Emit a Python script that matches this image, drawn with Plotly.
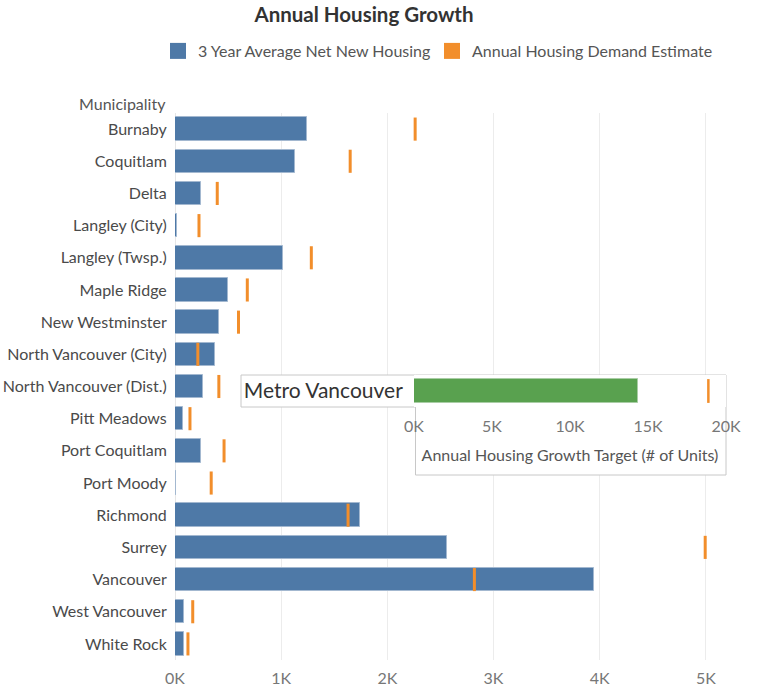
import plotly.graph_objects as go

# ---------------- data ----------------
municipalities = ["Burnaby", "Coquitlam", "Delta", "Langley (City)", "Langley (Twsp.)",
                  "Maple Ridge", "New Westminster", "North Vancouver (City)",
                  "North Vancouver (Dist.)", "Pitt Meadows", "Port Coquitlam", "Port Moody",
                  "Richmond", "Surrey", "Vancouver", "West Vancouver", "White Rock"]
net_new_housing = [1240, 1133, 248, 15, 1015, 495, 415, 377, 262, 73, 248, 12,
                   1746, 2562, 3942, 87, 87]
demand_estimate = [2262, 1650, 398, 226, 1284, 681, 598, 215, 413, 141, 462, 341,
                   1630, 4994, 2820, 167, 122]

main_tick_vals = [0, 1000, 2000, 3000, 4000, 5000]
main_tick_text = ["0K", "1K", "2K", "3K", "4K", "5K"]

metro_label = ["Metro Vancouver"]
metro_target = [14360]
metro_demand = [18870]
inset_tick_vals = [0, 5000, 10000, 15000, 20000]
inset_tick_text = ["0K", "5K", "10K", "15K", "20K"]

series_names = ["3 Year Average Net New Housing", "Annual Housing Demand Estimate"]

# ---------------- styles ----------------
BLUE = "#4e79a7"
ORANGE = "#f28e2b"
GREEN = "#59a14f"
FONT = "Lato"

W, H = 758, 689
L, R, T, B = 175, 15, 113, 29
PW, PH = W - L - R, H - T - B
XMAX = 5350
NCAT = len(municipalities)


def dx(px):
    return (px - L) / PW


def dy(py):
    return (H - B - py) / PH


def xdata(px):
    return (px - L) / PW * XMAX


def ydata(py):
    return (py - T) / PH * NCAT - 0.5


fig = go.Figure()

fig.add_trace(go.Bar(
    y=municipalities, x=net_new_housing, orientation="h",
    marker=dict(color=BLUE, line=dict(color="#a3b8d0", width=1)),
    width=0.73, showlegend=False, name=series_names[0],
    xaxis="x", yaxis="y"))

fig.add_trace(go.Scatter(
    y=municipalities, x=demand_estimate, mode="markers",
    marker=dict(symbol="line-ns", size=16.5, line=dict(color=ORANGE, width=3)),
    showlegend=False, name=series_names[1], xaxis="x", yaxis="y"))

# legend entries (square swatches)
for nm, col, lg in zip(series_names, [BLUE, ORANGE], ["legend", "legend2"]):
    fig.add_trace(go.Scatter(
        x=[None], y=[None], mode="markers", name=nm,
        marker=dict(symbol="square", size=16, color=col),
        showlegend=True, legend=lg, xaxis="x", yaxis="y"))

# inset: Metro Vancouver
fig.add_trace(go.Bar(
    y=metro_label, x=metro_target, orientation="h",
    marker=dict(color=GREEN, line=dict(color="#a9cda5", width=1)),
    width=0.77, showlegend=False, xaxis="x2", yaxis="y2"))
fig.add_trace(go.Scatter(
    y=metro_label, x=metro_demand, mode="markers",
    marker=dict(symbol="line-ns", size=17, line=dict(color=ORANGE, width=2.5)),
    showlegend=False, xaxis="x2", yaxis="y2"))

legend_style = dict(orientation="h", yanchor="middle", xanchor="left", y=dy(51),
                    font=dict(family=FONT, size=16, color="#555555"),
                    bgcolor="rgba(0,0,0,0)", itemsizing="trace")

fig.update_layout(
    width=W, height=H,
    margin=dict(l=L, r=R, t=T, b=B, autoexpand=False),
    paper_bgcolor="white", plot_bgcolor="white",
    font=dict(family=FONT, color="#555555", size=16),
    bargap=0,
    title=dict(text="<b>Annual Housing Growth</b>", x=364 / W, xanchor="center",
               y=1 - 15 / H, yanchor="middle",
               font=dict(family=FONT, size=20.5, color="#333333")),
    legend=dict(x=dx(158), **legend_style),
    legend2=dict(x=dx(432), **legend_style),
    xaxis=dict(domain=[0, 1], range=[0, XMAX], tickvals=main_tick_vals,
               ticktext=main_tick_text, showgrid=True, gridcolor="#ececec",
               gridwidth=1, zeroline=True, zerolinecolor="#e6e6e6", zerolinewidth=1,
               showline=False, ticks="outside", ticklen=4, tickcolor="rgba(0,0,0,0)",
               automargin=False,
               tickfont=dict(family=FONT, size=16, color="#777777"), fixedrange=True),
    yaxis=dict(domain=[0, 1], range=[NCAT - 0.5, -0.5], type="category",
               categoryorder="array", categoryarray=municipalities,
               showgrid=False, showline=False, automargin=False,
               zeroline=False, ticks="outside", ticklen=4, tickcolor="rgba(0,0,0,0)",
               tickfont=dict(family=FONT, size=16, color="#4a4a4a")),
    xaxis2=dict(domain=[dx(414), dx(726)], range=[0, 20000], anchor="y2",
                tickvals=inset_tick_vals, ticktext=inset_tick_text,
                showgrid=False, zeroline=False, showline=False, automargin=False,
                ticks="outside", ticklen=5, tickcolor="rgba(0,0,0,0)",
                tickfont=dict(family=FONT, size=16, color="#777777"),
                title=dict(text="Annual Housing Growth Target (# of Units)", standoff=15,
                           font=dict(family=FONT, size=16, color="#555555"))),
    yaxis2=dict(domain=[dy(407), dy(375)], anchor="x2", range=[-0.5, 0.5],
                showgrid=False, zeroline=False, showline=False, automargin=False,
                ticks="outside", ticklen=6, tickcolor="rgba(0,0,0,0)",
                tickfont=dict(family=FONT, size=21, color="#333333")),
    shapes=[
        dict(type="rect", xref="x", yref="y", layer="between",
             x0=xdata(415.5), x1=xdata(726), y0=ydata(375), y1=ydata(475),
             line=dict(color="#c8c8c8", width=1), fillcolor="white"),
        dict(type="rect", xref="x", yref="y", layer="between",
             x0=xdata(241), x1=xdata(415.5), y0=ydata(375), y1=ydata(407),
             line=dict(color="#c8c8c8", width=1), fillcolor="white"),
    ],
    annotations=[
        dict(text="Municipality", xref="paper", yref="paper", x=dx(168), y=dy(103),
             xanchor="right", yanchor="middle", showarrow=False,
             font=dict(family=FONT, size=16, color="#555555")),
    ],
)

fig.write_html("out.html")
